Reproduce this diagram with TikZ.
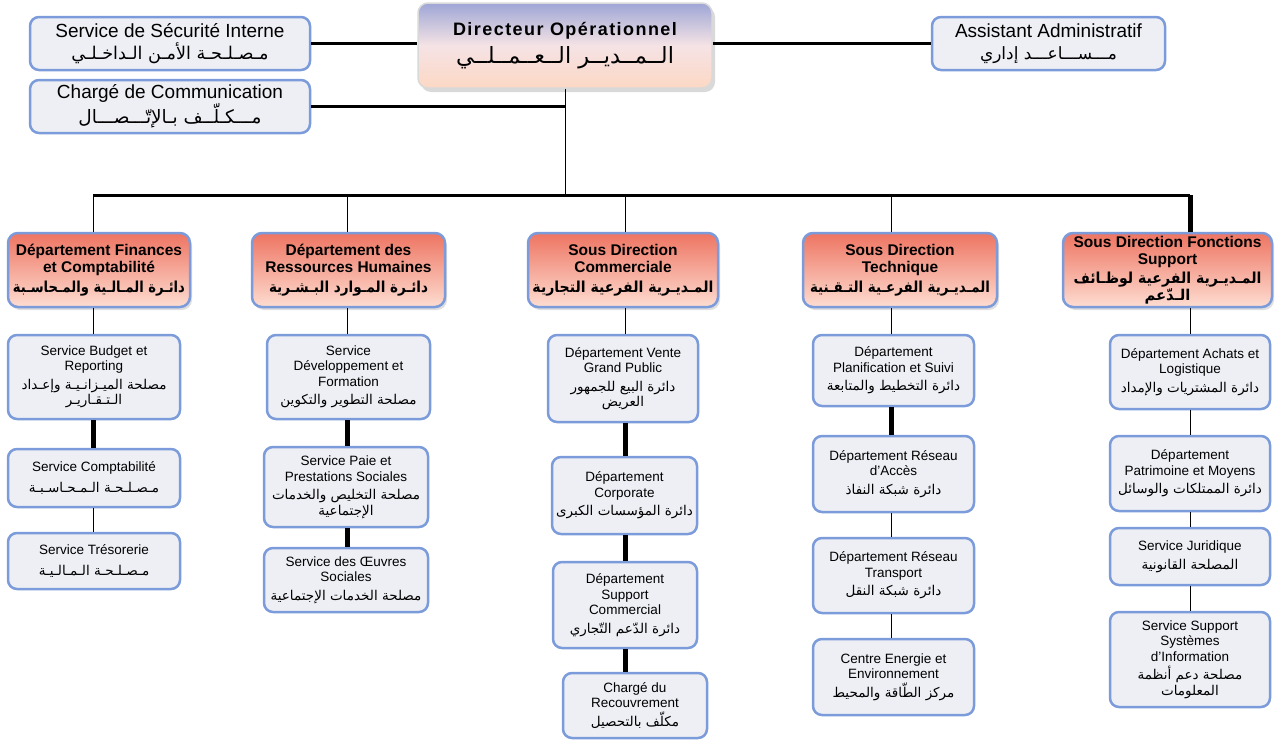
\documentclass[tikz,border=0pt]{standalone}
\usepackage{fontspec}
\setmainfont{Liberation Sans}
\newfontfamily\arabicfont[Script=Arabic]{DejaVu Sans}
\TeXXeTstate=1
\usetikzlibrary{shadows}
% Arabic line scaled to a given width (text given with \beginR ... \endR)
\newcommand{\arW}[2]{\resizebox{#1pt}{!}{\arabicfont #2}}
\newcommand{\arHd}[2]{\resizebox{#1pt}{11.5pt}{\bfseries\arabicfont #2}}
\newcommand{\arB}[1]{{\fontsize{13.5}{16}\selectfont\arabicfont #1}}
\definecolor{boxblue}{HTML}{7B9BDB}
\definecolor{boxfill}{HTML}{EEEFF5}
\definecolor{saltop}{HTML}{EE7462}
\definecolor{salbot}{HTML}{FDDDD1}
\definecolor{dirtop}{HTML}{9EA6D6}
\definecolor{dirmid}{HTML}{F5E3E5}
\definecolor{dirbot}{HTML}{FCD8C4}
\begin{document}
\begin{tikzpicture}[x=1pt,y=-1pt,
  box/.style={draw=boxblue, line width=2.5pt, fill=boxfill, rounded corners=9pt,
    align=center, inner sep=1pt, font=\fontsize{13.5}{15.5}\selectfont},
  topbox/.style={box, font=\fontsize{19}{22}\selectfont},
  headbox/.style={draw=boxblue, line width=2.5pt, rounded corners=10pt,
    top color=saltop, bottom color=salbot, align=center, inner sep=1pt,
    font=\bfseries\fontsize{15.5}{17}\selectfont,
    drop shadow={shadow xshift=2pt, shadow yshift=-3pt, opacity=0.25}},
  dirbox/.style={draw=white!85!black, line width=1.5pt, rounded corners=10pt,
    top color=dirtop, bottom color=dirbot, middle color=dirmid, align=center,
    font=\fontsize{18}{24}\selectfont,
    drop shadow={shadow xshift=3pt, shadow yshift=-4pt, opacity=0.3}},
  thinline/.style={line width=1pt},
  thickline/.style={line width=5pt},
  busline/.style={line width=3pt}
]
\useasboundingbox (0,0) rectangle (1280,742);

% ---------- top level ----------
\node[dirbox, minimum width=294pt, minimum height=85pt] (dir) at (565,45.5)
  {{\bfseries\addfontfeature{LetterSpace=8}Directeur Opérationnel}\\[4pt]
   \arW{218}{\beginR الــمــديــر الــعــمــلــي\endR}};
\node[topbox, minimum width=280pt, minimum height=53pt] (sec) at (170,43.5)
  {Service de Sécurité Interne\\ \arW{197}{\beginR مـصـلـحـة الأمـن الـداخـلـي\endR}};
\node[topbox, minimum width=280pt, minimum height=53pt] (com) at (170,106.5)
  {Chargé de Communication\\ \arW{183}{\beginR مـــكـلّــف بـالإتّـــصـــال\endR}};
\node[topbox, minimum width=233pt, minimum height=53pt] (asst) at (1048.5,43.5)
  {Assistant Administratif\\ \arW{137}{\beginR مـــســـاعـــد إداري\endR}};

\coordinate (dv) at (565,195);
\coordinate (busL) at (93,195);
\coordinate (busR) at (1190,195);
\coordinate (c1) at (93,195);
\coordinate (c2) at (347,195);
\coordinate (c3) at (625,195);
\coordinate (c4) at (891,195);
\coordinate (c5) at (1190,195);

% ---------- headers ----------
\node[headbox, minimum width=182pt, minimum height=74pt] (h1) at (99,270)
  {Département Finances\\ et Comptabilité\\[3pt] \arHd{172}{\beginR دائـرة المـالـية والمـحاسـبة\endR}};
\node[headbox, minimum width=193pt, minimum height=74pt] (h2) at (348.5,270)
  {Département des\\ Ressources Humaines\\[3pt] \arHd{159}{\beginR دائـرة المـوارد البـشـرية\endR}};
\node[headbox, minimum width=190pt, minimum height=74pt] (h3) at (623,270)
  {Sous Direction\\ Commerciale\\[3pt] \arHd{181}{\beginR المـديـرية الفرعية التجارية\endR}};
\node[headbox, minimum width=194pt, minimum height=74pt] (h4) at (900,270)
  {Sous Direction\\ Technique\\[3pt] \arHd{180}{\beginR المـديـرية الفرعـية التـقـنية\endR}};
\node[headbox, minimum width=209pt, minimum height=74pt] (h5) at (1167.5,270)
  {Sous Direction Fonctions\\ Support\\[2pt] \arHd{188}{\beginR المـديـرية الفرعية لوظـائف\endR}\\ \arHd{46}{\beginR الـدّعم\endR}};

% ---------- column 1 ----------
\node[box, minimum width=172pt, minimum height=84pt] (s11) at (94,377)
  {Service Budget et\\ Reporting\\[3pt] \arB{\beginR مصلحة الميـزانـيـة وإعـداد\endR}\\ \arB{\beginR الـتـقـاريـر\endR}};
\node[box, minimum width=172pt, minimum height=58pt] (s12) at (94,478)
  {Service Comptabilité\\[5pt] \arB{\beginR مـصـلـحـة الـمـحـاسـبـة\endR}};
\node[box, minimum width=172pt, minimum height=56pt] (s13) at (94,561)
  {Service Trésorerie\\[5pt] \arB{\beginR مـصـلـحـة الـمـالـيـة\endR}};

% ---------- column 2 ----------
\node[box, minimum width=163pt, minimum height=84pt] (s21) at (348.5,377)
  {Service\\ Développement et\\ Formation\\[3pt] \arB{\beginR مصلحة التطوير والتكوين\endR}};
\node[box, minimum width=164pt, minimum height=80pt] (s22) at (346,487)
  {Service Paie et\\ Prestations Sociales\\[3pt] \arB{\beginR مصلحة التخليص والخدمات\endR}\\ \arB{\beginR الإجتماعية\endR}};
\node[box, minimum width=164pt, minimum height=64pt] (s23) at (346,580)
  {Service des Œuvres\\ Sociales\\[3pt] \arB{\beginR مصلحة الخدمات الإجتماعية\endR}};

% ---------- column 3 ----------
\node[box, minimum width=150pt, minimum height=87pt] (s31) at (623,378.5)
  {Département Vente\\ Grand Public\\[3pt] \arB{\beginR دائرة البيع للجمهور\endR}\\ \arB{\beginR العريض\endR}};
\node[box, minimum width=145pt, minimum height=77pt] (s32) at (624.5,495.5)
  {Département\\ Corporate\\[3pt] \arB{\beginR دائرة المؤسسات الكبرى\endR}};
\node[box, minimum width=144pt, minimum height=86pt] (s33) at (625,605)
  {Département\\ Support\\ Commercial\\[3pt] \arB{\beginR دائرة الدّعم التّجاري\endR}};
\node[box, minimum width=144pt, minimum height=65pt] (s34) at (635,705.5)
  {Chargé du\\ Recouvrement\\[3pt] \arB{\beginR مكلّف بالتحصيل\endR}};

% ---------- column 4 ----------
\node[box, minimum width=161pt, minimum height=71pt] (s41) at (893.5,370.5)
  {Département\\ Planification et Suivi\\[3pt] \arB{\beginR دائرة التخطيط والمتابعة\endR}};
\node[box, minimum width=161pt, minimum height=76pt] (s42) at (893.5,474)
  {Département Réseau\\ d’Accès\\[3pt] \arB{\beginR دائرة شبكة النفاذ\endR}};
\node[box, minimum width=161pt, minimum height=75pt] (s43) at (893.5,575.5)
  {Département Réseau\\ Transport\\[3pt] \arB{\beginR دائرة شبكة النقل\endR}};
\node[box, minimum width=161pt, minimum height=76pt] (s44) at (893.5,677)
  {Centre Energie et\\ Environnement\\[3pt] \arB{\beginR مركز الطّاقة والمحيط\endR}};

% ---------- column 5 ----------
\node[box, minimum width=160pt, minimum height=74pt] (s51) at (1190,372)
  {Département Achats et\\ Logistique\\[3pt] \arB{\beginR دائرة المشتريات والإمداد\endR}};
\node[box, minimum width=160pt, minimum height=75pt] (s52) at (1190,473.5)
  {Département\\ Patrimoine et Moyens\\[3pt] \arB{\beginR دائرة الممتلكات والوسائل\endR}};
\node[box, minimum width=160pt, minimum height=57pt] (s53) at (1190,556.5)
  {Service Juridique\\[3pt] \arB{\beginR المصلحة القانونية\endR}};
\node[box, minimum width=160pt, minimum height=95pt] (s54) at (1190,659.5)
  {Service Support\\ Systèmes\\ d’Information\\[3pt] \arB{\beginR مصلحة دعم أنظمة\endR}\\ \arB{\beginR المعلومات\endR}};

% ---------- connectors ----------
\draw[busline] (sec.east) -- (sec.east -| dir.west);
\draw[busline] (com.east) -- (com.east -| dv);
\draw[busline] (dir.east |- asst.west) -- (asst.west);
\draw[thinline] (dv |- dir.south) -- (dv);
\draw[busline] (busL) -- (busR);

\draw[thinline] (c1) -- (c1 |- h1.north);
\draw[thinline] (c2) -- (c2 |- h2.north);
\draw[thinline] (c3) -- (c3 |- h3.north);
\draw[thinline] (c4) -- (c4 |- h4.north);
\draw[thickline] (c5) -- (c5 |- h5.north);

\draw[thinline] (c1 |- h1.south) -- (c1 |- s11.north);
\draw[thickline] (c1 |- s11.south) -- (c1 |- s12.north);
\draw[thinline] (c1 |- s12.south) -- (c1 |- s13.north);

\draw[thinline] (c2 |- h2.south) -- (c2 |- s21.north);
\draw[thickline] (c2 |- s21.south) -- (c2 |- s22.north);
\draw[thickline] (c2 |- s22.south) -- (c2 |- s23.north);

\draw[thinline] (c3 |- h3.south) -- (c3 |- s31.north);
\draw[thickline] (c3 |- s31.south) -- (c3 |- s32.north);
\draw[thickline] (c3 |- s32.south) -- (c3 |- s33.north);
\draw[thickline] (c3 |- s33.south) -- (c3 |- s34.north);

\draw[thinline] (c4 |- h4.south) -- (c4 |- s41.north);
\draw[thickline] (c4 |- s41.south) -- (c4 |- s42.north);
\draw[thinline] (c4 |- s42.south) -- (c4 |- s43.north);
\draw[thinline] (c4 |- s43.south) -- (c4 |- s44.north);

\draw[thinline] (c5 |- h5.south) -- (c5 |- s51.north);
\draw[thinline] (c5 |- s51.south) -- (c5 |- s52.north);
\draw[thinline] (c5 |- s52.south) -- (c5 |- s53.north);
\draw[thinline] (c5 |- s53.south) -- (c5 |- s54.north);
\end{tikzpicture}
\end{document}
